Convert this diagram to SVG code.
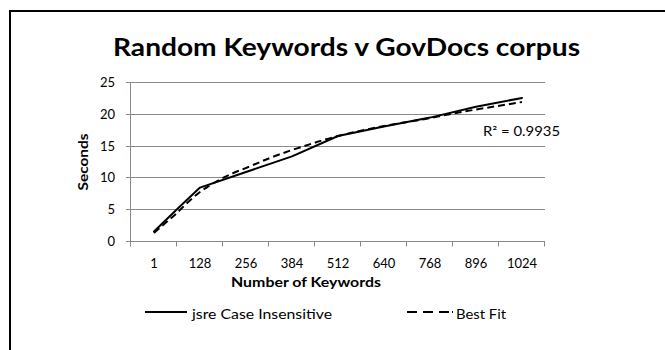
<svg xmlns="http://www.w3.org/2000/svg" width="665" height="350" viewBox="0 0 665 350">
<style>
.t{font-family:Lato,"Liberation Sans",sans-serif;fill:#000}
.tick{font-size:13px}
.b{font-weight:bold}
.grid{stroke:#898989;stroke-width:1;fill:none}
.axis{stroke:#898989;stroke-width:1;fill:none}
.data{stroke:#000;stroke-width:2;fill:none;stroke-linejoin:round;stroke-linecap:round}
.fit{stroke:#000;stroke-width:2;fill:none;stroke-dasharray:7 4}
</style>
<rect width="665" height="350" fill="#fff"/>
<path d="M9 11H666M10 11V351" stroke="#000" stroke-width="2" fill="none"/>
<g id="title"><text class="t b" x="346.5" y="56" font-size="24" text-anchor="middle" textLength="467" lengthAdjust="spacingAndGlyphs">Random Keywords v GovDocs corpus</text></g>
<g id="grid">
<path class="grid" d="M126 82.5H545M126 114.5H545M126 146.5H545M126 177.5H545M126 209.5H545"/>
</g>
<g id="axes">
<path class="axis" d="M130.5 82V241.5M126 241.5H545"/>
<path class="axis" d="M130.5 241V246.5M176.5 241V246.5M222.5 241V246.5M268.5 241V246.5M314.5 241V246.5M360.5 241V246.5M406.5 241V246.5M452.5 241V246.5M498.5 241V246.5M544.5 241V246.5"/>
</g>
<g id="y-labels" class="t tick" text-anchor="end">
<text x="115" y="87">25</text>
<text x="115" y="119">20</text>
<text x="115" y="151">15</text>
<text x="115" y="182">10</text>
<text x="115" y="214">5</text>
<text x="115" y="246">0</text>
</g>
<g id="x-labels" class="t tick" text-anchor="middle">
<text x="154" y="268">1</text>
<text x="200" y="268">128</text>
<text x="246" y="268">256</text>
<text x="292" y="268">384</text>
<text x="338" y="268">512</text>
<text x="384" y="268">640</text>
<text x="430" y="268">768</text>
<text x="476" y="268">896</text>
<text x="522" y="268">1024</text>
</g>
<g id="axis-titles">
<text class="t b" x="306" y="287" font-size="13" text-anchor="middle" textLength="150" lengthAdjust="spacingAndGlyphs">Number of Keywords</text>
<text class="t b" transform="translate(88 162) rotate(-90)" x="0" y="0" font-size="13" text-anchor="middle" textLength="57" lengthAdjust="spacingAndGlyphs">Seconds</text>
</g>
<g id="connectors">
<path id="series-jsre" class="data" d="M154 231.5L177 209.2L200 187.6L246 172L292 156.4L338 136L384 126.5L430 117.6L476 106.8L522 97.9"/>
<path id="series-fit" class="fit" d="M154 233C162 226 170 219 177 213C184 206 192 198 200 192C215 181 230 174 246 168C262 161 277 155 292 150C308 145 322 140 338 136C354 132 369 129 384 126C400 123 415 121 430 118C446 115 461 112 476 109.5C492 107 507 104.5 522 102"/>
</g>
<g id="r2"><text class="t tick" x="483" y="136" textLength="77" lengthAdjust="spacingAndGlyphs">R² = 0.9935</text></g>
<g id="legend">
<line x1="145" y1="312" x2="187" y2="312" stroke="#000" stroke-width="2"/>
<text class="t tick" x="192" y="319" textLength="140" lengthAdjust="spacingAndGlyphs">jsre Case Insensitive</text>
<line x1="407" y1="312" x2="453" y2="312" stroke="#000" stroke-width="2" stroke-dasharray="10 6 10 6 10 3 1.5 20"/>
<text class="t tick" x="456" y="319" textLength="50" lengthAdjust="spacingAndGlyphs">Best Fit</text>
</g>
</svg>
